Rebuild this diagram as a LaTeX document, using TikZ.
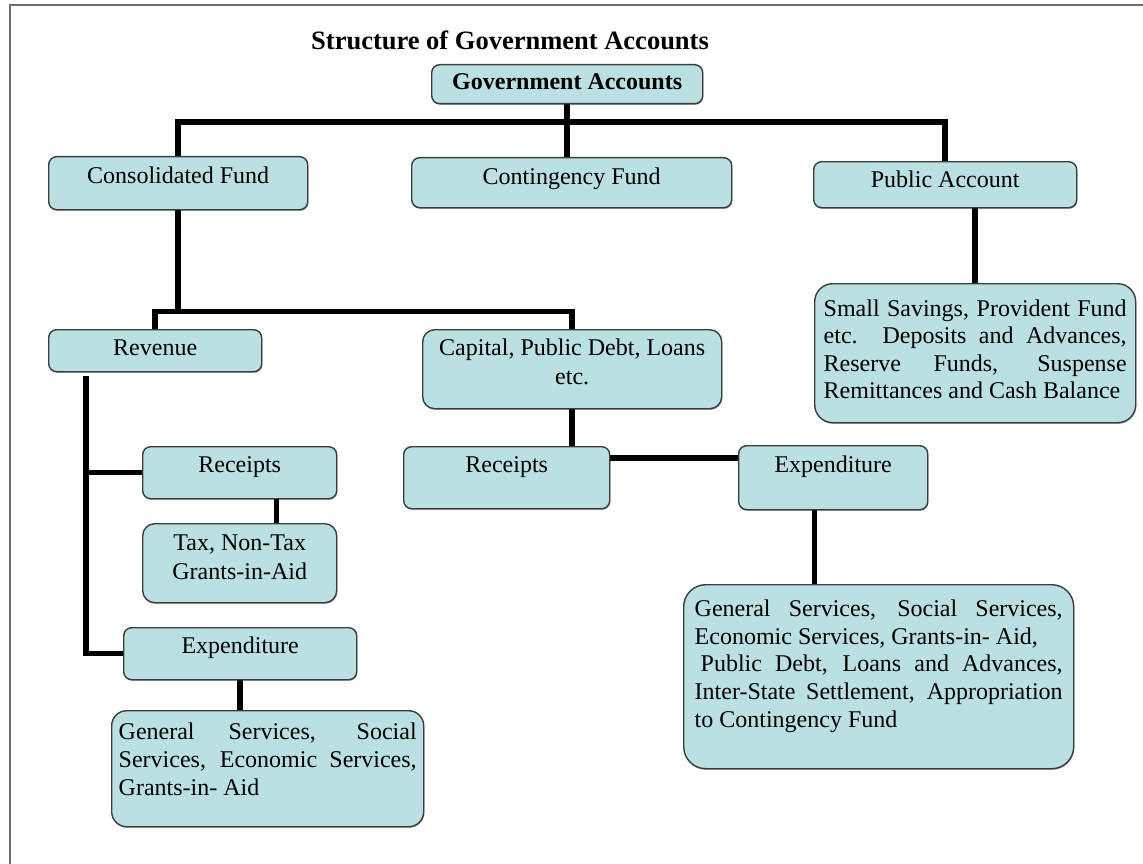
\documentclass[tikz,border=0pt]{standalone}
\usepackage{fontspec}
\setmainfont{Liberation Serif}
\usetikzlibrary{shadows,backgrounds}
\definecolor{boxfill}{RGB}{186,224,227}
\definecolor{boxline}{RGB}{60,60,60}
\definecolor{frameline}{RGB}{110,110,110}
\tikzset{
  box/.style={draw=boxline, fill=boxfill, line width=1.4pt, anchor=north west,
    inner xsep=0pt, inner ysep=0pt, align=center, rounded corners=8pt,
    font=\fontsize{24}{27.7}\selectfont,
    execute at begin node={\spaceskip=0pt\xspaceskip=0pt\leftskip=0pt plus 1fil\rightskip=0pt plus 1fil\parfillskip=0pt},
    drop shadow={shadow xshift=0.6pt, shadow yshift=-1.2pt, fill=black, opacity=0.35}},
  boldbox/.style={box, font=\bfseries\fontsize{24}{27.7}\selectfont},
  textbox/.style={box, align=left,
    execute at begin node={\spaceskip=0pt\xspaceskip=0pt\leftskip=0pt\rightskip=0pt plus 1fil}},
  conn/.style={line width=5.5pt, draw=black},
  frame/.style={draw=frameline, line width=1.5pt},
}
\begin{document}
\begin{tikzpicture}[x=1pt,y=-1pt]
\useasboundingbox (0,0) rectangle (1143,864);
\draw[frame] (10,864) -- (10,5) -- (1143,5);

\node[anchor=base west, inner sep=0pt, font=\bfseries\fontsize{26.5}{30}\selectfont] (title) at (311,50) {Structure of Government Accounts};

\node[boldbox, text width=271pt, text height=25.3pt, text depth=13.7pt] (gov) at (431,64) {Government Accounts};

\node[box, text width=259pt, text height=27pt, text depth=26pt] (cons) at (48,156) {Consolidated Fund};
\node[box, text width=320pt, text height=26.5pt, text depth=23.5pt] (cont) at (411,157) {Contingency Fund};
\node[box, text width=263pt, text height=26pt, text depth=20pt] (pub) at (813,161) {Public Account};

\node[textbox, inner xsep=9pt, text width=303pt, text height=32.7pt, text depth=106.3pt, rounded corners=18pt,
  font=\fontsize{24}{27.3}\selectfont] (sav) at (814,283)
 {\makebox[\linewidth][s]{Small Savings, Provident Fund}\\
  \makebox[\linewidth][s]{etc.\ \ Deposits and Advances,}\\
  \makebox[\linewidth][s]{Reserve Funds, Suspense}\\
  Remittances and Cash Balance};

\node[box, text width=213pt, text height=26pt, text depth=16pt] (rev) at (48,329) {Revenue};
\node[box, text width=299pt, text height=26pt, text depth=53pt, rounded corners=12pt,
  font=\fontsize{24}{28.3}\selectfont] (cap) at (422,329) {Capital, Public Debt, Loans\\etc.};

\node[box, text width=194pt, text height=26pt, text depth=26pt] (rcptL) at (142,446) {Receipts};
\node[box, text width=194pt, text height=27pt, text depth=52pt, rounded corners=12pt,
  font=\fontsize{24}{28.3}\selectfont] (tax) at (142,523) {Tax, Non-Tax\\Grants-in-Aid};
\node[box, text width=233pt, text height=26pt, text depth=26pt] (expL) at (123,627) {Expenditure};
\node[textbox, inner xsep=7pt, text width=298pt, text height=28.3pt, text depth=87.7pt, rounded corners=15pt,
  font=\fontsize{24}{28.3}\selectfont] (genL) at (111,710)
 {\makebox[\linewidth][s]{General Services, Social}\\
  \makebox[\linewidth][s]{Services, Economic Services,}\\
  Grants-in- Aid};

\node[box, text width=206pt, text height=26pt, text depth=36pt] (rcptM) at (403,446) {Receipts};
\node[box, text width=189pt, text height=27pt, text depth=37pt] (expR) at (738,445) {Expenditure};
\node[textbox, inner xsep=11pt, text width=368pt, text height=31.7pt, text depth=152.3pt, rounded corners=22pt] (big) at (683,584)
 {\makebox[\linewidth][s]{General Services, Social Services,}\\
  Economic Services, Grants-in- Aid,\\
  \makebox[\linewidth][s]{\hspace*{6pt}Public Debt, Loans and Advances,}\\
  \makebox[\linewidth][s]{Inter-State Settlement, Appropriation}\\
  to Contingency Fund};

\begin{pgfonlayer}{background}
\coordinate (bus) at (566,122);
\draw[conn] (cons.north) |- (bus) -| (pub.north);
\draw[conn] (gov.south) -- (gov.south |- cont.north);

\path (cons.south) ++(0,101) coordinate (j);
\draw[conn] (cons.south) -- (j);
\draw[conn] (rev.north) |- (j) -| (cap.north);

\path (rev.south west) ++(38,3.5) coordinate (rvs);
\draw[conn] (rvs) |- (expL.west);
\draw[conn] (rvs |- rcptL.west) -- (rcptL.west);
\draw[conn] ([xshift=37pt]rcptL.south) -- ([xshift=37pt]tax.north);
\draw[conn] (expL.south) -- (expL.south |- genL.north);

\draw[conn] (cap.south) -- (cap.south |- rcptM.north);
\path (rcptM.north east) ++(0,12) coordinate (rme);
\draw[conn] (rme) -- (rme -| expR.west);
\path (expR.south) ++(-18.5,0) coordinate (ers);
\draw[conn] (ers) -- (ers |- big.north);

\draw[conn] (sav.north |- pub.south) -- (sav.north);
\end{pgfonlayer}
\end{tikzpicture}
\end{document}
